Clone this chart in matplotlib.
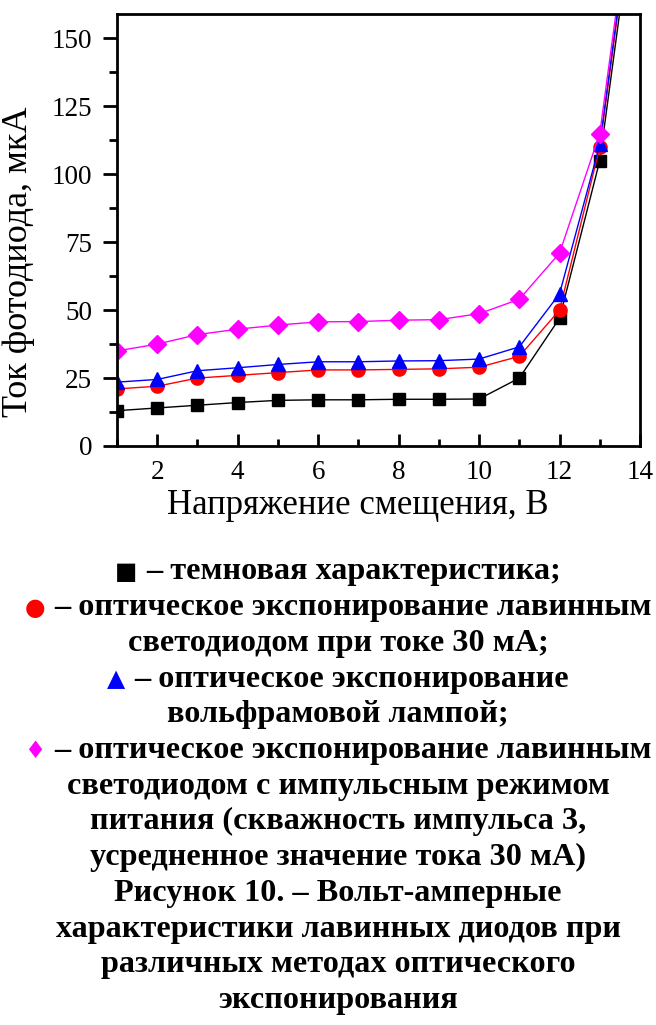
import numpy as np
import matplotlib
matplotlib.use('Agg')
import matplotlib.pyplot as plt
from matplotlib.ticker import MultipleLocator

plt.rcParams['font.family'] = ['Liberation Serif', 'DejaVu Sans']

# напряжение смещения, В
voltage = [1, 2, 3, 4, 5, 6, 7, 8, 9, 10, 11, 12, 13, 14]
# ток фотодиода, мкА
dark = [13, 14, 15, 16, 16.8, 17, 17, 17.2, 17.2, 17.3, 25, 47, 105, 215]
led = [21, 22, 25, 26, 27, 28, 28, 28.2, 28.4, 29, 33, 50, 110, 220]
lamp = [23.5, 24.5, 27.7, 28.8, 30, 31, 31, 31.3, 31.4, 32, 36.5, 56, 111, 222]
pulsed = [35, 37.5, 41, 43, 44.5, 45.7, 45.8, 46.3, 46.5, 48.7, 54, 71, 115, 225]

xlabel = 'Напряжение смещения, В'
ylabel = 'Ток фотодиода, мкА'

caption = [
    ('■', 'black', '– темновая характеристика;'),
    ('●', 'red', '– оптическое экспонирование лавинным'),
    (None, None, 'светодиодом при токе 30 мА;'),
    ('▲', 'blue', '– оптическое экспонирование'),
    (None, None, 'вольфрамовой лампой;'),
    ('♦', 'magenta', '– оптическое экспонирование лавинным'),
    (None, None, 'светодиодом с импульсным режимом'),
    (None, None, 'питания (скважность импульса 3,'),
    (None, None, 'усредненное значение тока 30 мА)'),
    (None, None, 'Рисунок 10. – Вольт-амперные'),
    (None, None, 'характеристики лавинных диодов при'),
    (None, None, 'различных методах оптического'),
    (None, None, 'экспонирования'),
]

W, H = 656, 1025
fig = plt.figure(figsize=(W / 100, H / 100), dpi=100)
ax = fig.add_axes([117 / W, 1 - 446 / H, (640 - 117) / W, (446 - 14) / H])

ax.plot(voltage, dark, '-s', color='black', lw=1, ms=8.5)
ax.plot(voltage, led, '-o', color='red', lw=1, ms=9.5)
ax.plot(voltage, lamp, '-^', color='blue', lw=1, ms=10)
ax.plot(voltage, pulsed, '-D', color='magenta', lw=1, ms=9)

ax.set_xlim(1, 14)
ax.set_ylim(0, 159)
ax.xaxis.set_major_locator(MultipleLocator(2))
ax.xaxis.set_minor_locator(MultipleLocator(1))
ax.yaxis.set_major_locator(MultipleLocator(25))
ax.yaxis.set_minor_locator(MultipleLocator(12.5))
ax.tick_params(axis='x', which='major', direction='in', length=9, width=2, labelsize=19.5, pad=10)
ax.tick_params(axis='x', which='minor', direction='in', length=5, width=2)
ax.tick_params(axis='y', which='major', direction='out', length=10, width=2, labelsize=19.5, pad=8)
ax.tick_params(axis='y', which='minor', direction='out', length=6, width=2)
for s in ax.spines.values():
    s.set_linewidth(2)
ax.set_xlabel(xlabel, fontsize=25)
ax.set_ylabel(ylabel, fontsize=26)
ax.xaxis.set_label_coords(0.461, -0.1)
ax.yaxis.set_label_coords(-0.157, 0.426)

# подпись к рисунку
fig.canvas.draw()
r = fig.canvas.get_renderer()
cx = 338
y0, dy = 572, 35.7
for i, (mk, col, txt) in enumerate(caption):
    y = 1 - (y0 + i * dy) / H
    t = fig.text(cx / W, y, txt, ha='center', va='center', fontsize=23.2, fontweight='bold')
    if mk:
        bb = t.get_window_extent(r)
        m = fig.text(0, y, mk, ha='center', va='center', fontsize=17, color=col, family='DejaVu Sans')
        mw = m.get_window_extent(r).width
        gap = 9
        shift = (mw + gap) / 2
        t.set_x((cx + shift) / W)
        m.set_x((bb.x0 + shift - gap - mw / 2) / W)

fig.savefig('out.png', dpi=100)
